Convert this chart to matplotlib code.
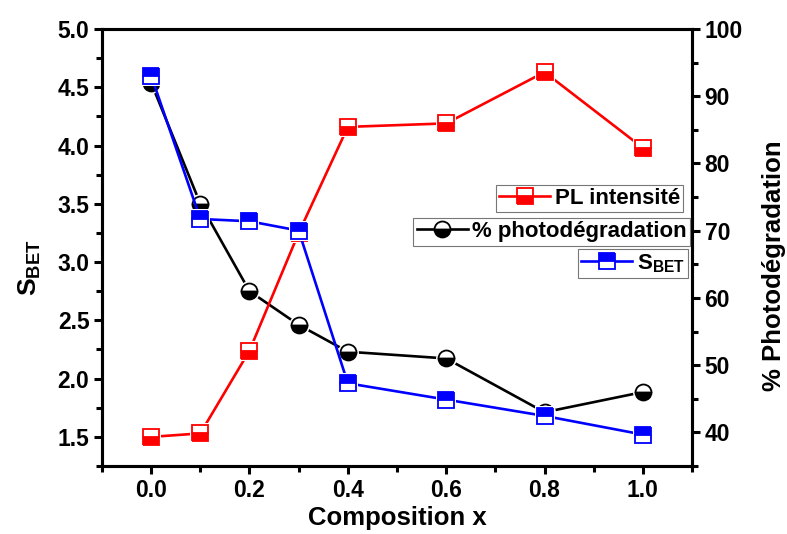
import matplotlib
matplotlib.use('Agg')
import matplotlib.pyplot as plt
from matplotlib.lines import Line2D
from matplotlib.ticker import MultipleLocator, FuncFormatter

# ---------- DATA ----------
composition = [0.0, 0.1, 0.2, 0.3, 0.4, 0.6, 0.8, 1.0]
s_bet = [4.60, 3.37, 3.35, 3.27, 1.96, 1.82, 1.68, 1.52]
pl_intensite = [1.50, 1.53, 2.24, 3.25, 4.16, 4.19, 4.63, 3.98]
photodegradation = [92, 74, 61, 56, 52, 51, 43, 46]
# --------------------------

plt.rcParams['font.family'] = ['Liberation Sans', 'DejaVu Sans']
plt.rcParams['font.weight'] = 'bold'
plt.rcParams['mathtext.fontset'] = 'custom'
plt.rcParams['mathtext.rm'] = 'Liberation Sans:bold'
plt.rcParams['mathtext.default'] = 'rm'

fig = plt.figure(figsize=(7.87, 5.34), dpi=100)
ax = fig.add_axes([0.1296, 0.1273, 0.7497, 0.8184])
ax2 = ax.twinx()

MS = 11.5
LW = 1.9


def draw_series(a, x, y, color, marker, fill, z):
    """Origin-like series: line with small gaps around the markers."""
    a.plot(x, y, color=color, lw=LW, zorder=z)
    a.plot(x, y, ls='none', marker=marker, ms=MS + 3.5, color='white',
           markeredgewidth=0, zorder=z + 0.1)
    style = dict(color=color, lw=LW, marker=marker, ms=MS, fillstyle=fill,
                 markerfacecolor=color, markerfacecoloralt='white',
                 markeredgecolor=color, markeredgewidth=1.3)
    a.plot(x, y, ls='none', zorder=z + 0.2, **{k: v for k, v in style.items() if k != 'lw'})
    return Line2D([], [], **style)


h_ph = draw_series(ax2, composition, photodegradation, 'black', 'o', 'bottom', 2)
h_pl = draw_series(ax, composition, pl_intensite, 'red', 's', 'bottom', 3)
h_sb = draw_series(ax, composition, s_bet, 'blue', 's', 'top', 4)
ax.set_zorder(ax2.get_zorder() + 1)
ax.patch.set_visible(False)

ax.set_xlim(-0.1, 1.1)
ax.set_ylim(1.25, 5.0)
ax2.set_ylim(35, 100)

ax.xaxis.set_major_locator(MultipleLocator(0.2))
ax.xaxis.set_minor_locator(MultipleLocator(0.1))
ax.yaxis.set_major_locator(MultipleLocator(0.5))
ax.yaxis.set_minor_locator(MultipleLocator(0.25))
ax2.yaxis.set_major_locator(MultipleLocator(10))
ax2.yaxis.set_minor_locator(MultipleLocator(5))
ax.xaxis.set_major_formatter(FuncFormatter(lambda v, p: f'{v:.1f}'))
ax.yaxis.set_major_formatter(FuncFormatter(lambda v, p: f'{v:.1f}'))
ax2.yaxis.set_major_formatter(FuncFormatter(lambda v, p: f'{v:.0f}'))

for a in (ax, ax2):
    for sp in a.spines.values():
        sp.set_linewidth(2.2)
    a.tick_params(which='major', direction='out', length=6, width=2.2, labelsize=16.5, pad=3)
    a.tick_params(which='minor', direction='out', length=4, width=2.2)

ax.set_xlabel('Composition x', fontsize=18.5, fontweight='bold', labelpad=3)
ax.set_ylabel('S$_{BET}$', fontsize=19, fontweight='bold')
ax2.set_ylabel('% Photodégradation', fontsize=18.5, fontweight='bold')
ax.yaxis.set_label_coords(-0.100, 0.453)
ax2.yaxis.set_label_coords(1.118, 0.458)

leg_kw = dict(fontsize=16, frameon=True, fancybox=False, framealpha=1,
              edgecolor='#777777', borderpad=0.15, handlelength=2.3,
              handletextpad=0.2, borderaxespad=0, loc='upper right',
              bbox_transform=fig.transFigure)
leg1 = ax.legend([h_pl], ['PL intensité'], bbox_to_anchor=(0.868, 0.654), **leg_kw)
ax.add_artist(leg1)
leg2 = ax.legend([h_ph], ['% photodégradation'], bbox_to_anchor=(0.877, 0.592), **leg_kw)
ax.add_artist(leg2)
leg3 = ax.legend([h_sb], ['S$_{BET}$'], bbox_to_anchor=(0.874, 0.534), **leg_kw)
for lg in (leg1, leg2, leg3):
    lg.get_frame().set_linewidth(0.8)
    for t in lg.get_texts():
        t.set_fontweight('bold')

fig.savefig('out.png', dpi=100)
